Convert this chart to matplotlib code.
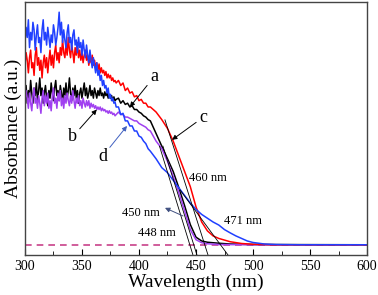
import numpy as np
import matplotlib
matplotlib.use("Agg")
import matplotlib.pyplot as plt

plt.rcParams['font.family'] = ['Liberation Serif', 'DejaVu Serif']

# wavelength grids (nm): 1 nm steps for the noisy start, 2 nm steps after
wl_fine = np.arange(300, 381, 1)
wl_mid = np.arange(382, 411, 2)

# sample a (black)
a_fine = [0.63, 0.67, 0.60, 0.65, 0.62, 0.69, 0.64, 0.60, 0.66, 0.63,
          0.68, 0.61, 0.65, 0.70, 0.63, 0.66, 0.60, 0.64, 0.67, 0.62,
          0.59, 0.65, 0.62, 0.68, 0.64, 0.61, 0.66, 0.69, 0.63, 0.65,
          0.61, 0.67, 0.64, 0.60, 0.66, 0.63, 0.68, 0.62, 0.65, 0.70,
          0.64, 0.61, 0.66, 0.63, 0.67, 0.62, 0.65, 0.60, 0.64, 0.66,
          0.62, 0.65, 0.68, 0.63, 0.66, 0.62, 0.64, 0.67, 0.63, 0.65,
          0.62, 0.66, 0.64, 0.62, 0.65, 0.63, 0.66, 0.63, 0.64, 0.62,
          0.645, 0.63, 0.64, 0.62, 0.635, 0.62, 0.63, 0.61, 0.625, 0.61,
          0.615]
a_mid = [0.62, 0.60, 0.61, 0.595, 0.60, 0.585, 0.59, 0.575, 0.575, 0.565,
         0.56, 0.55, 0.545, 0.535, 0.53]
a_wl = [415, 420, 425, 430, 435, 440, 445, 450, 455, 460, 470, 480, 500, 600]
a_tail = [0.48, 0.43, 0.38, 0.33, 0.265, 0.195, 0.12, 0.07, 0.055, 0.05, 0.046, 0.043, 0.041, 0.04]

# sample b (purple)
b_fine = [0.61, 0.65, 0.62, 0.58, 0.64, 0.60, 0.57, 0.63, 0.66, 0.60,
          0.62, 0.58, 0.63, 0.60, 0.56, 0.62, 0.65, 0.59, 0.63, 0.60,
          0.64, 0.58, 0.61, 0.57, 0.63, 0.66, 0.60, 0.62, 0.58, 0.64,
          0.61, 0.65, 0.59, 0.62, 0.58, 0.63, 0.60, 0.64, 0.61, 0.59,
          0.63, 0.60, 0.65, 0.61, 0.58, 0.62, 0.60, 0.63, 0.59, 0.61,
          0.58, 0.62, 0.60, 0.585, 0.61, 0.59, 0.61, 0.58, 0.60, 0.585,
          0.595, 0.58, 0.59, 0.575, 0.585, 0.575, 0.585, 0.57, 0.58, 0.57,
          0.575, 0.565, 0.57, 0.56, 0.57, 0.56, 0.565, 0.555, 0.56, 0.55,
          0.555]
b_mid = [0.565, 0.555, 0.555, 0.545, 0.545, 0.54, 0.535, 0.53, 0.53, 0.52,
         0.515, 0.51, 0.505, 0.495, 0.49]
b_wl = [415, 420, 425, 430, 435, 440, 445, 450, 455, 460, 470, 500, 600]
b_tail = [0.45, 0.42, 0.37, 0.31, 0.245, 0.175, 0.10, 0.06, 0.048, 0.044, 0.041, 0.04, 0.04]

# sample c (red)
c_fine = [0.75, 0.80, 0.77, 0.72, 0.78, 0.81, 0.74, 0.76, 0.71, 0.79,
          0.82, 0.75, 0.78, 0.73, 0.77, 0.70, 0.76, 0.79, 0.74, 0.78,
          0.72, 0.77, 0.81, 0.75, 0.79, 0.74, 0.80, 0.83, 0.77, 0.80,
          0.76, 0.82, 0.79, 0.85, 0.80, 0.78, 0.83, 0.79, 0.86, 0.81,
          0.78, 0.83, 0.80, 0.76, 0.82, 0.79, 0.84, 0.78, 0.81, 0.77,
          0.80, 0.76, 0.79, 0.81, 0.77, 0.79, 0.75, 0.78, 0.76, 0.79,
          0.75, 0.77, 0.74, 0.76, 0.73, 0.755, 0.72, 0.74, 0.72, 0.73,
          0.71, 0.725, 0.70, 0.715, 0.70, 0.71, 0.69, 0.70, 0.685, 0.69,
          0.68]
c_mid = [0.69, 0.67, 0.68, 0.65, 0.66, 0.64, 0.645, 0.625, 0.63, 0.61,
         0.615, 0.60, 0.60, 0.585, 0.585]
c_wl = [415, 420, 425, 430, 435, 440, 445, 450, 455, 460, 465, 470, 480, 490, 500, 520, 600]
c_tail = [0.565, 0.535, 0.50, 0.45, 0.39, 0.33, 0.27, 0.19, 0.13, 0.095, 0.075, 0.065,
          0.052, 0.045, 0.042, 0.04, 0.04]

# sample d (blue)
d_fine = [0.84, 0.90, 0.86, 0.93, 0.82, 0.88, 0.85, 0.92, 0.89, 0.81,
          0.87, 0.91, 0.84, 0.86, 0.80, 0.89, 0.93, 0.85, 0.88, 0.83,
          0.90, 0.86, 0.82, 0.87, 0.84, 0.91, 0.88, 0.83, 0.86, 0.90,
          0.96, 0.87, 0.92, 0.84, 0.89, 0.85, 0.82, 0.88, 0.91, 0.84,
          0.86, 0.81, 0.87, 0.89, 0.83, 0.85, 0.80, 0.86, 0.82, 0.84,
          0.79, 0.85, 0.81, 0.78, 0.83, 0.79, 0.76, 0.81, 0.77, 0.74,
          0.78, 0.75, 0.72, 0.76, 0.71, 0.73, 0.69, 0.71, 0.67, 0.69,
          0.66, 0.67, 0.64, 0.66, 0.62, 0.635, 0.61, 0.62, 0.60, 0.605,
          0.585]
d_mid = [0.585, 0.555, 0.56, 0.53, 0.53, 0.51, 0.51, 0.49, 0.49, 0.47,
         0.465, 0.45, 0.44, 0.42, 0.41]
d_wl = [415, 420, 425, 430, 435, 440, 445, 450, 455, 460, 465, 470, 475, 480, 485, 490,
        495, 500, 510, 520, 540, 600]
d_tail = [0.38, 0.345, 0.325, 0.295, 0.265, 0.235, 0.205, 0.18, 0.16, 0.145, 0.13, 0.118,
          0.10, 0.087, 0.075, 0.065, 0.055, 0.049, 0.043, 0.041, 0.04, 0.04]

baseline = 0.04

# tangent lines: start (x, y) -> end (x, y)
tan_x0 = [418.0, 421.0, 422.8, 436.0]
tan_y0 = [0.43, 0.43, 0.534, 0.257]
tan_x1 = [447.3, 450.8, 460.5, 478.0]
tan_y1 = [0.0, 0.0, 0.0, 0.0]

fig = plt.figure(figsize=(3.78, 2.95), dpi=100)
ax = fig.add_axes([0.066, 0.136, 0.905, 0.857])

ax.axhline(baseline, color='#c8428a', lw=1.2, ls=(0, (4, 3)), zorder=1)


def full(fine, mid, wl, tail):
    return list(wl_fine) + list(wl_mid) + wl, fine + mid + tail


ax.plot(*full(a_fine, a_mid, a_wl, a_tail), color='black', lw=1.1)
ax.plot(*full(b_fine, b_mid, b_wl, b_tail), color='#a040f0', lw=1.1)
ax.plot(*full(c_fine, c_mid, c_wl, c_tail), color='#ff0000', lw=1.1)
ax.plot(*full(d_fine, d_mid, d_wl, d_tail), color='#2040ff', lw=1.1)

for x0, y0, x1, y1 in zip(tan_x0, tan_y0, tan_x1, tan_y1):
    ax.plot([x0, x1], [y0, y1], color='black', lw=0.6)

arr = dict(arrowstyle='-|>', lw=0.7, color='black', mutation_scale=7, shrinkA=0, shrinkB=0)
ax.annotate('a', xy=(392, 0.585), xytext=(409.6, 0.67), fontsize=13,
            ha='left', va='bottom', arrowprops=arr)
ax.annotate('b', xy=(363, 0.575), xytext=(345.6, 0.50), fontsize=13,
            ha='right', va='top', arrowprops=arr)
ax.annotate('c', xy=(429, 0.455), xytext=(452.6, 0.51), fontsize=13,
            ha='left', va='bottom', arrowprops=arr)
ax.annotate('d', xy=(389.5, 0.51), xytext=(372, 0.423), fontsize=13,
            ha='right', va='top', arrowprops=dict(arr, color='#4060c0'))
ax.annotate('', xy=(422.8, 0.186), xytext=(438.6, 0.154),
            arrowprops=dict(arr, color='#405080'))

ax.text(401.7, 0.166, '450 nm', fontsize=9, ha='center', va='center')
ax.text(415.5, 0.087, '448 nm', fontsize=9, ha='center', va='center')
ax.text(460.0, 0.305, '460 nm', fontsize=9, ha='center', va='center')
ax.text(491.5, 0.135, '471 nm', fontsize=9, ha='center', va='center')

ax.set_xlim(300, 600)
ax.set_ylim(0, 1.0)
ax.set_xticks([300, 350, 400, 450, 500, 550, 600])
ax.set_xticks(np.arange(325, 600, 50), minor=True)
ax.set_yticks([])
ax.tick_params(axis='x', which='both', direction='in', labelsize=10, pad=4)
ax.tick_params(axis='x', which='major', length=4)
ax.tick_params(axis='x', which='minor', length=3)
for s in ax.spines.values():
    s.set_color('#444444')
    s.set_linewidth(1.0)

ax.set_xlabel('Wavelength (nm)', fontsize=14, labelpad=0)
ax.set_ylabel('Absorbance (a.u.)', fontsize=14, labelpad=2)

fig.savefig('out.png', dpi=100)
